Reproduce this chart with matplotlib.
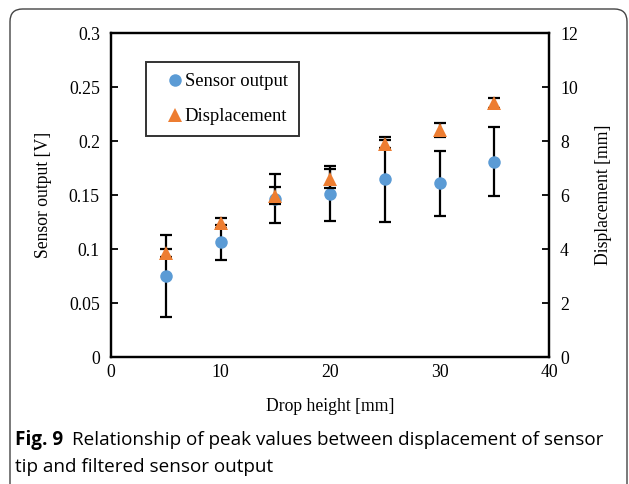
import matplotlib
matplotlib.use("Agg")
import matplotlib.pyplot as plt
from matplotlib.patches import FancyBboxPatch
from matplotlib.lines import Line2D

drop_height = [5, 10, 15, 20, 25, 30, 35]
sensor_output = [0.0753, 0.1062, 0.1465, 0.1510, 0.1645, 0.1608, 0.1810]
sensor_err = [0.0378, 0.0164, 0.0225, 0.0255, 0.0395, 0.0300, 0.0320]
displacement = [3.84, 4.95, 5.98, 6.60, 7.90, 8.42, 9.42]
disp_err = [0.15, 0.18, 0.32, 0.35, 0.15, 0.26, 0.19]

x_ticks = [0, 10, 20, 30, 40]
y_ticks = [0, 0.05, 0.1, 0.15, 0.2, 0.25, 0.3]
y_tick_labels = ["0", "0.05", "0.1", "0.15", "0.2", "0.25", "0.3"]
y2_ticks = [0, 2, 4, 6, 8, 10, 12]

caption_bold = "Fig. 9"
caption_line1 = "Relationship of peak values between displacement of sensor"
caption_line2 = "tip and filtered sensor output"

blue = "#5B9BD5"
orange = "#ED7D31"
serif = "Liberation Serif"
sans = "Open Sans"

fig = plt.figure(figsize=(6.29, 4.84), dpi=100)
fig.patch.set_facecolor("white")

# rounded frame around figure
frame = FancyBboxPatch((10 / 629, -0.2), (627 - 10) / 629, 1.2 - 9 / 484,
                       boxstyle="round,pad=0,rounding_size=0.02",
                       transform=fig.transFigure, fill=False,
                       edgecolor="#444444", linewidth=1.0, mutation_aspect=629 / 484)
fig.patches.append(frame)

ax = fig.add_axes([111 / 629, 1 - 357 / 484, (549 - 111) / 629, (357 - 33) / 484])
ax2 = ax.twinx()

ax.errorbar(drop_height, sensor_output, yerr=sensor_err, fmt="none", ecolor="black",
            elinewidth=1.6, capsize=4.3, capthick=1.6, zorder=2)
ax.plot(drop_height, sensor_output, "o", color=blue, markersize=9, zorder=3,
        markeredgewidth=0)

ax2.errorbar(drop_height, displacement, yerr=disp_err, fmt="none", ecolor="black",
             elinewidth=1.6, capsize=4.3, capthick=1.6, zorder=2)
ax2.plot(drop_height, displacement, "^", color=orange, markersize=9.5, zorder=3,
         markeredgewidth=0)

ax.set_xlim(0, 40)
ax.set_ylim(0, 0.3)
ax2.set_ylim(0, 12)
ax.set_xticks(x_ticks)
ax.set_yticks(y_ticks)
ax.set_yticklabels(y_tick_labels)
ax2.set_yticks(y2_ticks)

for a in (ax, ax2):
    for s in a.spines.values():
        s.set_linewidth(1.6)
    for lab in a.get_xticklabels() + a.get_yticklabels():
        lab.set_fontfamily(serif)
        lab.set_fontsize(12.8)

ax.tick_params(axis="y", direction="in", length=5, width=1.3, pad=8)
ax.tick_params(axis="x", direction="in", length=0, width=1.3, pad=5)
ax2.tick_params(axis="y", direction="in", length=5, width=1.3, pad=8)

ax.set_xlabel("Drop height [mm]", fontfamily=serif, fontsize=12.7, labelpad=12)
ax.set_ylabel("Sensor output [V]", fontfamily=serif, fontsize=12.7, labelpad=12)
ax2.set_ylabel("Displacement [mm]", fontfamily=serif, fontsize=12.7, labelpad=12)

handles = [Line2D([], [], linestyle="none", marker="o", color=blue, markersize=9,
                  markeredgewidth=0),
           Line2D([], [], linestyle="none", marker="^", color=orange, markersize=9.5,
                  markeredgewidth=0)]
leg = ax2.legend(handles, ["Sensor output", "Displacement"],
                 loc="upper left", bbox_to_anchor=(34.7 / 438, 1 - 29.3 / 324),
                 prop={"family": serif, "size": 13.4}, frameon=True, fancybox=False,
                 edgecolor="black", handlelength=1.9, handletextpad=-0.4,
                 labelspacing=0.95, borderpad=0.6, borderaxespad=0)
leg.get_frame().set_linewidth(1.4)
leg.set_zorder(10)

cap_size = 13.6
t_bold = fig.text(15 / 629, 1 - 440 / 484, caption_bold, fontfamily=sans,
                  fontweight="bold", fontsize=cap_size, va="center", ha="left")
fig.canvas.draw()
bb = t_bold.get_window_extent(renderer=fig.canvas.get_renderer())
fig.text((bb.x1 + 9) / fig.bbox.width, 1 - 440 / 484, caption_line1, fontfamily=sans,
         fontsize=cap_size, va="center", ha="left")
fig.text(15 / 629, 1 - 467 / 484, caption_line2, fontfamily=sans,
         fontsize=cap_size, va="center", ha="left")

fig.savefig("out.png", dpi=100)
